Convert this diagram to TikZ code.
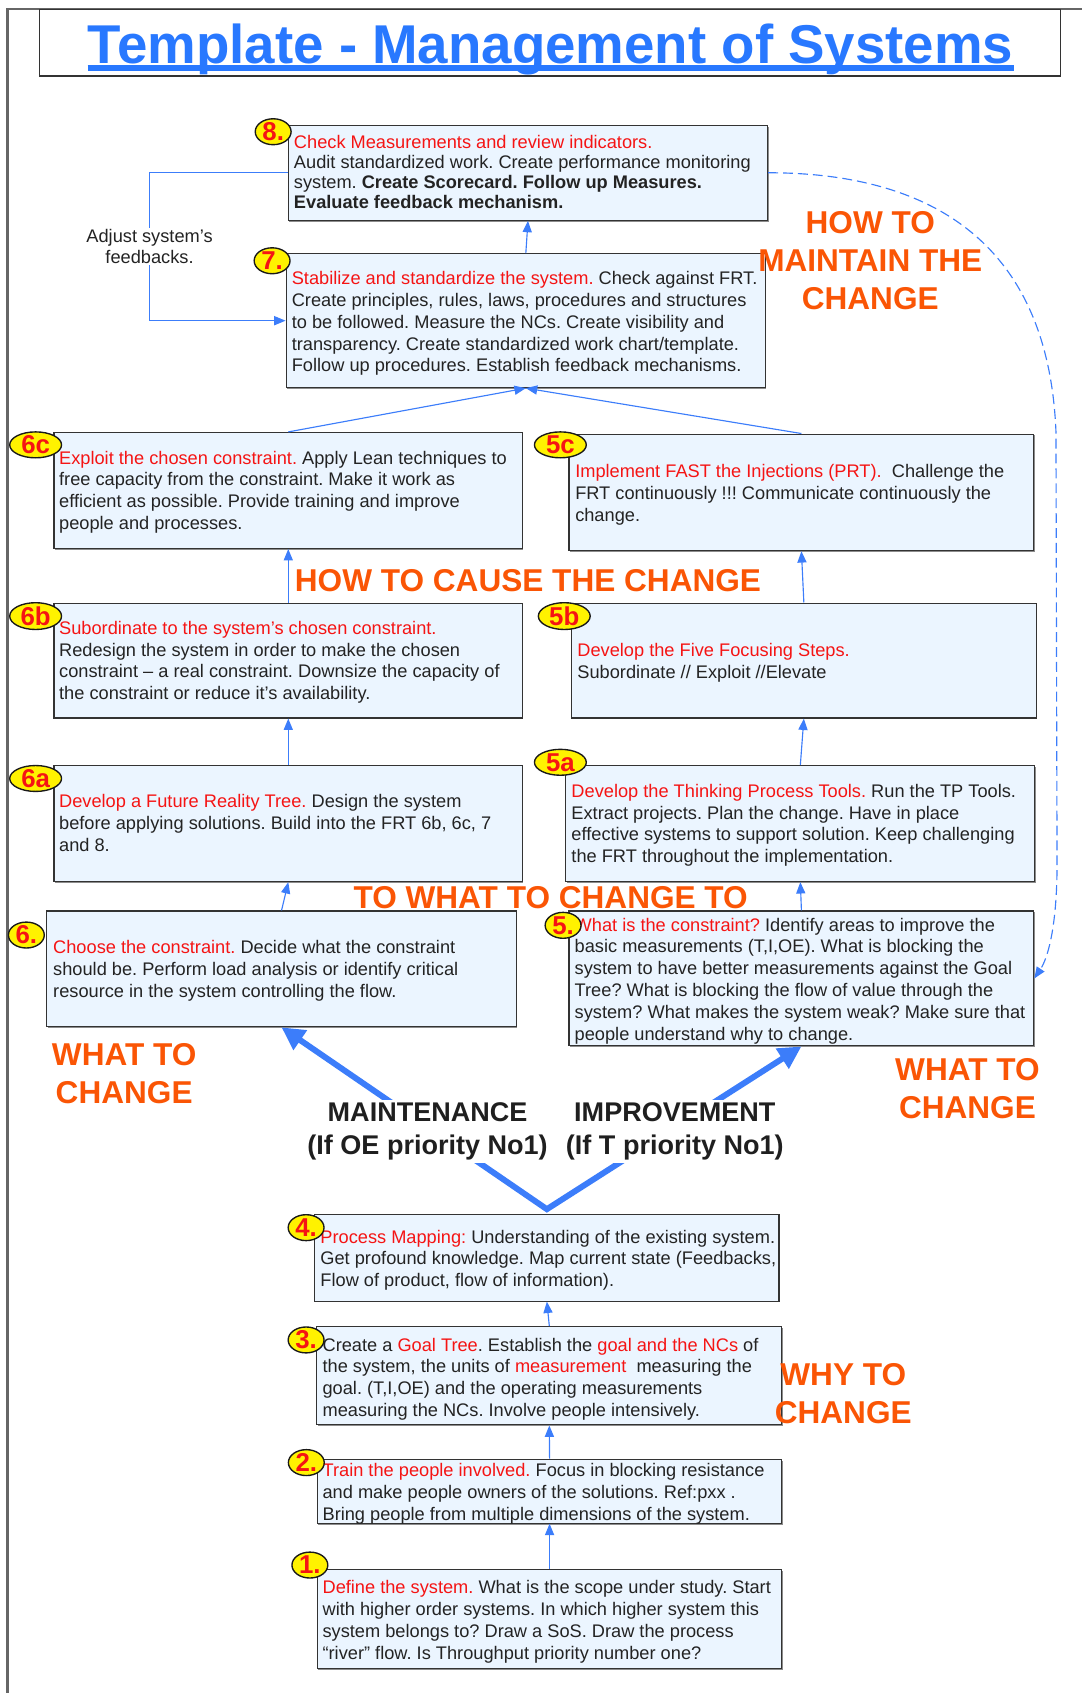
\documentclass[tikz,border=0pt]{standalone}
\usepackage{fontspec}
\setmainfont{Liberation Sans}
\usetikzlibrary{arrows.meta,positioning,calc,fit,shapes.geometric,shadows}
\definecolor{titleblue}{RGB}{40,120,255}
\definecolor{linkblue}{RGB}{60,125,250}
\definecolor{boxblue}{RGB}{235,245,255}
\definecolor{txtred}{RGB}{245,20,20}
\definecolor{txtgray}{RGB}{35,35,35}
\definecolor{howorange}{RGB}{250,85,5}
\newcommand{\redtx}[1]{\textcolor{txtred}{#1}}
\frenchspacing

\begin{document}
\begin{tikzpicture}[x=0.025cm,y=-0.025cm,
 box/.style={draw=black!80,fill=boxblue,line width=0.7pt,inner sep=0pt,
  drop shadow={shadow xshift=0.6pt,shadow yshift=-0.9pt,fill=black!45,opacity=1}},
 txt/.style={anchor=north west,inner sep=0pt,align=left,text=txtgray,font=\fontsize{12pt}{14.43pt}\selectfont},
 num/.style={ellipse,draw=black!90,line width=0.9pt,fill=yellow,inner sep=0pt,minimum width=0.83cm,minimum height=0.6cm,text=txtred,font=\bfseries\fontsize{17pt}{17pt}\selectfont},
 numw/.style={num,minimum width=1.2cm},
 lnk/.style={draw=linkblue,line width=0.75pt,-{Triangle[length=7.5pt,width=6pt]}},
 fat/.style={draw=linkblue,line width=3.9pt,{Triangle[length=15pt,width=15pt]}-{Triangle[length=15pt,width=15pt]}},
 how/.style={align=center,text=howorange,font=\bfseries\fontsize{20.8pt}{24.9pt}\selectfont},
 pri/.style={align=center,fill=white,inner sep=1.5pt,text=black!88,font=\bfseries\fontsize{17.8pt}{22pt}\selectfont}]
\useasboundingbox (0,0) rectangle (1002,1568);
\draw[black!60,line width=1.4pt] (7,1568) -- (7,8) -- (1002,8);
% title
\node[box,fill=white,fit={(37,8.6) (982,70.4)}] (tbox) {};
\node[anchor=base,inner sep=0pt,text=titleblue,font=\bfseries\fontsize{36pt}{40pt}\selectfont] (title) at (510,58.6) {Template - Management of Systems};
\draw[titleblue,line width=3.5pt] ($(title.base west)+(0,4.5)$) -- ($(title.base east)+(0,4.5)$);
% boxes
\node[box,fit={(267,116) (711,204)}] (b8) {};
\node[box,fit={(265,235) (709,359)}] (b7) {};
\node[box,fit={(50,400.5) (484,508)}] (b6c) {};
\node[box,fit={(527,402) (957.5,510)}] (b5c) {};
\node[box,fit={(50,558.5) (484,665)}] (b6b) {};
\node[box,fit={(529,558.5) (960,665)}] (b5b) {};
\node[box,fit={(50,709) (484,816.5)}] (b6a) {};
\node[box,fit={(524,709) (958.5,816.5)}] (b5a) {};
\node[box,fit={(43.5,843.7) (478,951)}] (b6) {};
\node[box,fit={(527,843.7) (957.5,968.7)}] (b5) {};
\node[box,fit={(291.5,1124.6) (721.5,1205)}] (b4) {};
\node[box,fit={(293.5,1228.6) (724,1319.7)}] (b3) {};
\node[box,fit={(294,1351.5) (724,1410.7)}] (b2) {};
\node[box,fit={(294,1453.4) (724,1545)}] (b1) {};
% box texts
\node[txt,font=\fontsize{12pt}{13.15pt}\selectfont] (t8) at (272,124.6) {\strut\redtx{Check Measurements and review indicators.}\\
 Audit standardized work. Create performance monitoring\\
 system. \textbf{Create Scorecard. Follow up Measures.}\\
 \textbf{Evaluate feedback mechanism.}};
\node[txt] (t7) at (270,248.8) {\strut\redtx{Stabilize and standardize the system.} Check against FRT.\\
 Create principles, rules, laws, procedures and structures\\
 to be followed. Measure the NCs. Create visibility and\\
 transparency. Create standardized work chart/template.\\
 Follow up procedures. Establish feedback mechanisms.};
\node[txt] (t6c) at (54.5,415.3) {\strut\redtx{Exploit the chosen constraint.} Apply Lean techniques to\\
 free capacity from the constraint. Make it work as\\
 efficient as possible. Provide training and improve\\
 people and processes.};
\node[txt] (t5c) at (532.5,427.8) {\strut\redtx{Implement FAST the Injections (PRT).}\ \ Challenge the\\
 FRT continuously !!! Communicate continuously the\\
 change.};
\node[txt] (t6b) at (54.5,572.8) {\strut\redtx{Subordinate to the system’s chosen constraint.}\\
 Redesign the system in order to make the chosen\\
 constraint – a real constraint. Downsize the capacity of\\
 the constraint or reduce it’s availability.};
\node[txt] (t5b) at (534.5,593.8) {\strut\redtx{Develop the Five Focusing Steps.}\\
 Subordinate // Exploit //Elevate};
\node[txt] (t6a) at (54.5,733.8) {\strut\redtx{Develop a Future Reality Tree.} Design the system\\
 before applying solutions. Build into the FRT 6b, 6c, 7\\
 and 8.};
\node[txt] (t5a) at (529,723.8) {\strut\redtx{Develop the Thinking Process Tools.} Run the TP Tools.\\
 Extract projects. Plan the change. Have in place\\
 effective systems to support solution. Keep challenging\\
 the FRT throughout the implementation.};
\node[txt] (t6) at (49,868.8) {\strut\redtx{Choose the constraint.} Decide what the constraint\\
 should be. Perform load analysis or identify critical\\
 resource in the system controlling the flow.};
\node[txt] (t5) at (532,847.8) {\strut\redtx{What is the constraint?} Identify areas to improve the\\
 basic measurements (T,I,OE). What is blocking the\\
 system to have better measurements against the Goal\\
 Tree? What is blocking the flow of value through the\\
 system? What makes the system weak? Make sure that\\
 people understand why to change.};
\node[txt] (t4) at (296.5,1136.8) {\strut\redtx{Process Mapping:} Understanding of the existing system.\\
 Get profound knowledge. Map current state (Feedbacks,\\
 Flow of product, flow of information).};
\node[txt] (t3) at (298.5,1236.8) {\strut Create a \redtx{Goal Tree}. Establish the \redtx{goal and the NCs} of\\
 the system, the units of \redtx{measurement}\ \ measuring the\\
 goal. (T,I,OE) and the operating measurements\\
 measuring the NCs. Involve people intensively.};
\node[txt] (t2) at (298.5,1353.3) {\strut\redtx{Train the people involved.} Focus in blocking resistance\\
 and make people owners of the solutions. Ref:pxx .\\
 Bring people from multiple dimensions of the system.};
\node[txt] (t1) at (298.5,1461.3) {\strut\redtx{Define the system.} What is the scope under study. Start\\
 with higher order systems. In which higher system this\\
 system belongs to? Draw a SoS. Draw the process\\
 “river” flow. Is Throughput priority number one?};
% connectors
\draw[lnk] (b7.north) -- (b8.south);
\draw[lnk] (b6c.north) -- (b7.south);
\draw[lnk] (b5c.north) -- (b7.south);
\draw[lnk] (b6b.north) -- (b6c.south);
\draw[lnk] (b5b.north) -- (b5c.south);
\draw[lnk] (b6a.north) -- (b6b.south);
\draw[lnk] (b5a.north) -- (b5b.south);
\draw[lnk] (b6.north) -- (b6a.south);
\draw[lnk] (b5.north) -- (b5a.south);
\draw[lnk] (b3.north) -- (b4.south);
\draw[lnk] (b2.north) -- (b3.south);
\draw[lnk] (b1.north) -- (b2.south);
\draw[lnk] (b8.west) -- ++(-128,0) |- node[pos=0.25,fill=white,inner sep=1pt,align=center,text=txtgray,font=\fontsize{12pt}{13.5pt}\selectfont] (adj) {Adjust system’s\\feedbacks.} (b7.west);
\draw[lnk,dash pattern=on 6.5pt off 3.3pt] (b8.east) .. controls (830,160) and (970,200) .. (978,400) -- (979,800) .. controls (979,860) and (970,888) .. (b5.east);
\draw[fat] (b6.south) -- ([yshift=3pt]b4.north) -- (b5.south);
\node[pri] (mnt) at (396,1048) {MAINTENANCE\\(If OE priority No1)};
\node[pri] (imp) at (625,1048) {IMPROVEMENT\\(If T priority No1)};
% section labels
\node[how] (hmt) at (806,241.3) {HOW TO\\MAINTAIN THE\\CHANGE};
\node[how] (hcc) at (489,538) {HOW TO CAUSE THE CHANGE};
\node[how] (twc) at (510,831) {TO WHAT TO CHANGE TO};
\node[how] (wtl) at (115,994) {WHAT TO\\CHANGE};
\node[how] (wtr) at (896,1008.5) {WHAT TO\\CHANGE};
\node[how] (why) at (781,1290.5) {WHY TO\\CHANGE};
% step numbers
\node[num] (n8) at (253,122) {8.};
\node[num] (n7) at (252,241.5) {7.};
\node[numw] (n6c) at (33,412) {6c};
\node[numw] (n5c) at (519,412) {5c};
\node[numw] (n6b) at (33,570.6) {6b};
\node[numw] (n5b) at (522.6,570.6) {5b};
\node[numw] (n6a) at (33,721) {6a};
\node[numw] (n5a) at (519,706) {5a};
\node[num] (n6) at (24.4,866) {6.};
\node[num] (n5) at (521.5,857) {5.};
\node[num] (n4) at (283.5,1137) {4.};
\node[num] (n3) at (283.5,1241) {3.};
\node[num] (n2) at (283.7,1354.6) {2.};
\node[num] (n1) at (287,1449.5) {1.};
\end{tikzpicture}
\end{document}
